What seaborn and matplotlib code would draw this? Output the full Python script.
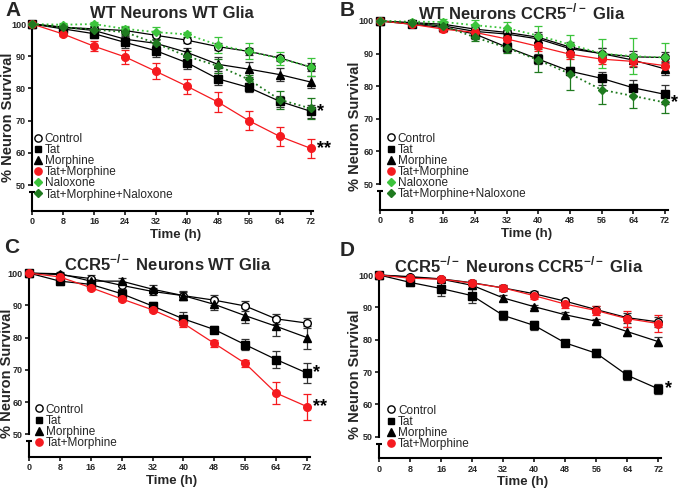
import numpy as np
import pandas as pd
import matplotlib
matplotlib.use("Agg")
import matplotlib.pyplot as plt
import seaborn as sns
from matplotlib.lines import Line2D

sns.set_theme(style="white")
plt.rcParams['font.family'] = ['Liberation Sans', 'DejaVu Sans']
plt.rcParams['mathtext.fontset'] = 'custom'
plt.rcParams['mathtext.rm'] = 'Liberation Sans'
plt.rcParams['mathtext.bf'] = 'Liberation Sans:bold'

time_h = [0, 8, 16, 24, 32, 40, 48, 56, 64, 72]
groups = ["Control", "Tat", "Morphine", "Tat+Morphine", "Naloxone", "Tat+Morphine+Naloxone"]

# ---- Panel A: WT Neurons WT Glia ----
a_control = [100, 99, 98.5, 98, 96.5, 95, 93, 91.5, 89.5, 86.6]
a_tat = [100, 98.5, 97, 94.3, 91.7, 88, 83, 80.3, 76, 72.9]
a_morph = [100, 99, 98, 95.3, 94, 91.2, 87.5, 86, 84.3, 82]
a_tatmorph = [100, 96.9, 93.1, 89.8, 85.3, 80.7, 75.8, 70, 65.1, 61.4]
a_nal = [100, 99.8, 100, 98.5, 97.5, 96.8, 93.5, 91.5, 89.3, 86.7]
a_tmn = [100, 99, 98.3, 97.5, 94, 90, 87, 82.8, 76.5, 73.8]
a_control_e = [0, 0.5, 0.8, 1.0, 1.2, 1.0, 1.2, 1.0, 1.0, 1.2]
a_tat_e = [0, 0.8, 1.2, 1.8, 1.8, 1.8, 1.8, 1.5, 1.8, 2.0]
a_morph_e = [0, 0.5, 1.0, 1.0, 1.2, 1.5, 2.2, 2.3, 2.0, 1.8]
a_tatmorph_e = [0, 0.5, 1.5, 2.3, 2.5, 2.3, 3.0, 3.0, 3.0, 3.0]
a_nal_e = [0, 0.5, 0.5, 0.8, 1.5, 0.8, 2.5, 2.5, 2.0, 2.8]
a_tmn_e = [0, 0.5, 1.0, 1.0, 1.5, 1.5, 2.3, 1.5, 2.8, 3.2]

# ---- Panel B: WT Neurons CCR5-/- Glia ----
b_control = [100, 99.5, 99, 97.5, 96.5, 95, 92, 90, 89, 88.8]
b_tat = [100, 99, 98, 96, 92, 88.3, 84.6, 82.4, 79.5, 77.5]
b_morph = [100, 99.3, 98.5, 96.8, 96, 94.5, 91.5, 90, 88, 85.3]
b_tatmorph = [100, 99, 97.5, 96.5, 94.5, 92.2, 89.8, 88.3, 87.6, 86.3]
b_nal = [100, 99.8, 99.7, 98.7, 97.8, 95.5, 92.8, 90, 89.2, 88.8]
b_tmn = [100, 99.5, 98.5, 95, 91.8, 88, 83.8, 78.9, 77, 75]
b_control_e = [0, 0.5, 1, 1, 1.2, 1.5, 1.5, 1.8, 1.8, 1.8]
b_tat_e = [0, 0.5, 1, 1.5, 1.5, 1.5, 1.2, 2, 2.5, 3]
b_morph_e = [0, 0.5, 0.8, 1, 1.2, 1.5, 1.5, 1.8, 2, 2]
b_tatmorph_e = [0, 0.5, 0.8, 1, 1.2, 1.5, 1.5, 1.5, 1.5, 1.5]
b_nal_e = [0, 0.5, 1, 1.5, 2, 3, 3, 4.5, 5.5, 4.3]
b_tmn_e = [0, 0.5, 1, 1, 1.5, 3.5, 5, 4.3, 3.8, 3.2]

# ---- Panel C: CCR5-/- Neurons WT Glia ----
c_control = [100, 99.5, 98.3, 96.2, 94.3, 93, 91.6, 89.8, 85.8, 84.5]
c_tat = [100, 97.5, 96.5, 93.6, 89.8, 85.8, 82.5, 77.8, 73.2, 69]
c_morph = [100, 99.8, 97.5, 97.5, 95, 93, 90.3, 86.8, 83.5, 80]
c_tatmorph = [100, 98.8, 95.5, 92, 88.6, 84.4, 78.2, 72, 62.8, 58.6]
c_control_e = [0, 0.5, 1, 1, 1.2, 1.5, 1.5, 1.5, 1.5, 1.5]
c_tat_e = [0, 1.2, 1.2, 1.5, 1.2, 2, 1, 1.8, 2.5, 3.2]
c_morph_e = [0, 0.5, 1, 1, 1.2, 1.2, 1.8, 2.3, 3, 3.5]
c_tatmorph_e = [0, 0.8, 0.8, 0.8, 0.8, 1.2, 1.2, 1.2, 3.3, 4]

# ---- Panel D: CCR5-/- Neurons CCR5-/- Glia ----
d_control = [100, 99.5, 98.8, 97.6, 96, 94.2, 91.9, 89.3, 86.8, 85.5]
d_tat = [100, 97.7, 95.8, 93.6, 87.5, 84.4, 79, 75.8, 69, 64.8]
d_morph = [100, 99.3, 98.7, 96.8, 92.9, 90.2, 87.7, 85.7, 82.5, 79.4]
d_tatmorph = [100, 99, 98.7, 97.5, 96, 93.6, 91, 89, 86.5, 85]
d_control_e = [0, 0.5, 0.5, 0.8, 0.8, 0.8, 0.8, 1.2, 1.5, 1.5]
d_tat_e = [0, 1.2, 2.2, 2.2, 1.5, 1.5, 0.8, 1.2, 1.5, 1.5]
d_morph_e = [0, 0.5, 0.8, 0.8, 0.8, 0.5, 0.8, 0.8, 1.5, 1.5]
d_tatmorph_e = [0, 0.5, 0.8, 0.8, 0.8, 1.0, 1.2, 1.5, 2.5, 2.5]

titles = ["WT Neurons WT Glia",
          r"WT Neurons CCR5$^{\mathbf{-/-}}$ Glia",
          r"CCR5$^{\mathbf{-/-}}$ Neurons WT Glia",
          r"CCR5$^{\mathbf{-/-}}$ Neurons CCR5$^{\mathbf{-/-}}$ Glia"]
letters = ["A", "B", "C", "D"]

panels = [
    ([a_control, a_tat, a_morph, a_tatmorph, a_nal, a_tmn],
     [a_control_e, a_tat_e, a_morph_e, a_tatmorph_e, a_nal_e, a_tmn_e]),
    ([b_control, b_tat, b_morph, b_tatmorph, b_nal, b_tmn],
     [b_control_e, b_tat_e, b_morph_e, b_tatmorph_e, b_nal_e, b_tmn_e]),
    ([c_control, c_tat, c_morph, c_tatmorph],
     [c_control_e, c_tat_e, c_morph_e, c_tatmorph_e]),
    ([d_control, d_tat, d_morph, d_tatmorph],
     [d_control_e, d_tat_e, d_morph_e, d_tatmorph_e]),
]
# significance marks: (series index, text)
stars = [[(1, "*"), (3, "**")], [(5, "*")], [(1, "*"), (3, "**")], [(1, "*")]]

RED = "#f51a1f"
LGREEN = "#3cc43c"
DGREEN = "#1f7a1f"
styles = {
    "Control": dict(color="black", marker="o", mfc="white", mec="black", ls="-", ecol="#333333"),
    "Tat": dict(color="black", marker="s", mfc="black", mec="black", ls="-", ecol="#333333"),
    "Morphine": dict(color="black", marker="^", mfc="black", mec="black", ls="-", ecol="#333333"),
    "Tat+Morphine": dict(color=RED, marker="o", mfc=RED, mec=RED, ls="-", ecol=RED),
    "Naloxone": dict(color=LGREEN, marker="D", mfc=LGREEN, mec=LGREEN, ls=":", ecol=LGREEN),
    "Tat+Morphine+Naloxone": dict(color=DGREEN, marker="D", mfc=DGREEN, mec=DGREEN, ls=":", ecol=DGREEN),
}
msize = {"o": 5.5, "s": 5.2, "^": 5.5, "D": 4.3}

# layout (figure fractions / pixel positions)
rects = [[0.0475, 0.5715, 0.4208, 0.3894],
         [0.5588, 0.5730, 0.4307, 0.3943],
         [0.0426, 0.0713, 0.4202, 0.3835],
         [0.5578, 0.0683, 0.4217, 0.3826]]
ybottoms = [42, 42, 43, 43.3]
ylabel_pos = [(-0.060, 0.49), (-0.060, 0.43), (-0.052, 0.445), (-0.060, 0.448)]
legend_anchor = [(0.002, 0.414), (0.020, 0.406), (0.0175, 0.289), (0.024, 0.292)]
title_px = [(172, 13), (522, 12), (168, 263), (519, 265)]
letter_px = [(13, 11), (347, 11), (12, 248), (347, 250)]
W, H = 680, 492

fig = plt.figure(figsize=(6.8, 4.92), dpi=100)

for i, (vals, errs) in enumerate(panels):
    ax = fig.add_axes(rects[i])
    names = groups[:len(vals)]
    for name, v, e in zip(names, vals, errs):
        st = styles[name]
        ax.errorbar(time_h, v, yerr=e, fmt="none", ecolor=st["ecol"], elinewidth=0.9,
                    capsize=2.6, capthick=0.9, zorder=2, clip_on=False)
    for name, v in zip(names, vals):
        st = styles[name]
        df = pd.DataFrame({"t": time_h, "y": v})
        sns.lineplot(data=df, x="t", y="y", ax=ax, color=st["color"], marker=st["marker"],
                     markerfacecolor=st["mfc"], markeredgecolor=st["mec"], markeredgewidth=1.0,
                     markersize=msize[st["marker"]], linestyle=st["ls"],
                     linewidth=1.3 if st["ls"] == ":" else 0.9,
                     estimator=None, errorbar=None, zorder=3, clip_on=False)
    for idx, txt in stars[i]:
        ax.text(73.6, vals[idx][-1], txt, fontsize=13, fontweight="bold",
                ha="left", va="center", color="black")

    ax.set_xlim(0, 74)
    ax.set_ylim(ybottoms[i], 101.5)
    ax.set_xticks(time_h)
    ax.set_yticks([50, 60, 70, 80, 90, 100])
    ax.tick_params(axis="both", which="major", direction="out", length=3, width=1.3,
                   labelsize=6.5, pad=1.5, bottom=True, left=True)
    for lab in ax.get_xticklabels() + ax.get_yticklabels():
        lab.set_fontweight("bold")
    for s in ["top", "right"]:
        ax.spines[s].set_visible(False)
    for s in ["left", "bottom"]:
        ax.spines[s].set_linewidth(1.5)
        ax.spines[s].set_color("black")
    ax.spines["left"].set_bounds(50, 100)
    ax.spines["bottom"].set_bounds(0, 72.7)
    # lower segment of the broken y axis
    ax.plot([0, 0], [ybottoms[i], 47.8], color="black", lw=1.5, clip_on=False,
            solid_capstyle="butt", zorder=1)
    ax.plot([0], [47.8], marker="_", color="black", markersize=5, mew=1.5, clip_on=False)

    ax.set_xlabel("Time (h)", fontsize=9.5, fontweight="bold", labelpad=2)
    ax.set_ylabel("% Neuron Survival", fontsize=10.5, fontweight="bold")
    ax.yaxis.set_label_coords(*ylabel_pos[i])
    ax.grid(False)

    handles = [Line2D([], [], linestyle="none", marker=styles[n]["marker"],
                      markerfacecolor=styles[n]["mfc"], markeredgecolor=styles[n]["mec"],
                      markersize=msize[styles[n]["marker"]] * 0.95, markeredgewidth=1.0)
               for n in names]
    ax.legend(handles, names, loc="upper left", bbox_to_anchor=legend_anchor[i],
              frameon=False, fontsize=8.5, handlelength=0.7, handletextpad=0.2,
              labelspacing=-0.07, borderaxespad=0, borderpad=0.1)

    tx, ty = title_px[i]
    fig.text(tx / W, 1 - ty / H, titles[i], fontsize=12, fontweight="bold",
             ha="center", va="center")
    lx, ly = letter_px[i]
    fig.text(lx / W, 1 - ly / H, letters[i], fontsize=15, fontweight="bold",
             ha="center", va="center")

fig.savefig("out.png", dpi=100)
